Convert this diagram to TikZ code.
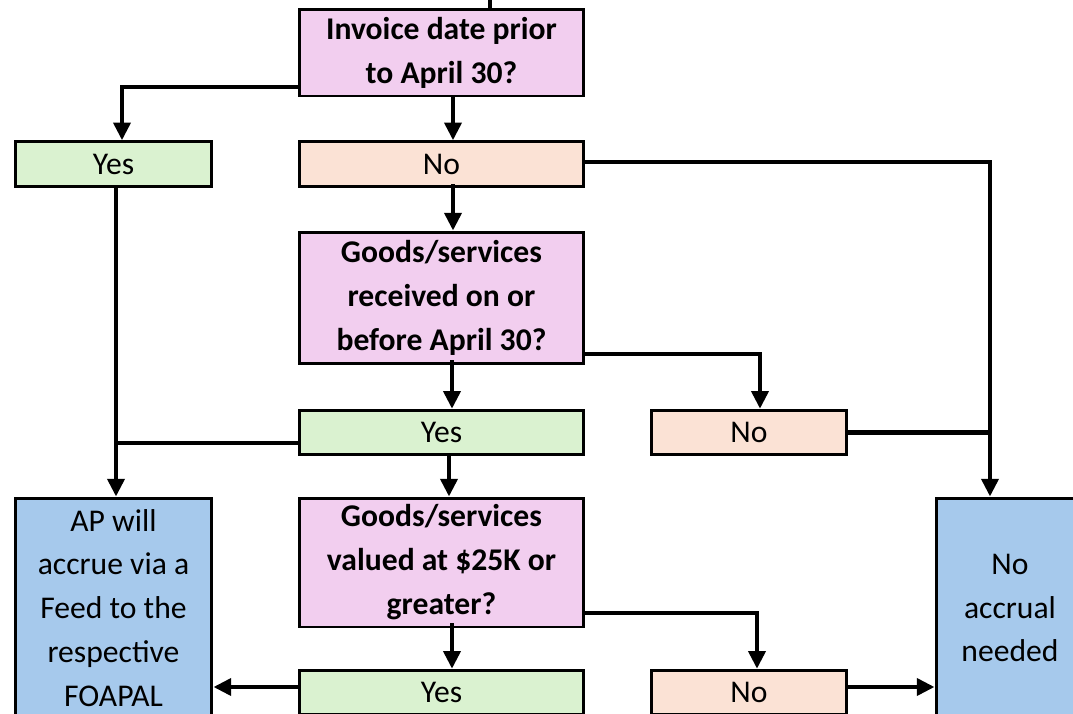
\documentclass[tikz,border=0pt]{standalone}
\usepackage{fontspec}
\setmainfont{Carlito}
\usetikzlibrary{arrows.meta}
\definecolor{qpink}{HTML}{F2CEEF}
\definecolor{ygreen}{HTML}{DAF2D0}
\definecolor{norange}{HTML}{FBE2D5}
\definecolor{endblue}{HTML}{A6C9EC}
\begin{document}
\begin{tikzpicture}[x=0.02cm, y=-0.02cm,
    every node/.style={draw, line width=1.7pt, inner sep=0pt, align=center,
        font=\fontsize{18}{25}\selectfont},
    question/.style={fill=qpink, font=\fontsize{18}{25}\selectfont\bfseries, minimum width=5.7cm},
    yesbox/.style={fill=ygreen, minimum height=0.89cm},
    nobox/.style={fill=norange, minimum height=0.89cm},
    endbox/.style={fill=endblue, minimum height=4.4cm},
    link/.style={line width=2.4pt},
    arr/.style={link, -{Triangle[length=10pt, width=9.5pt]}}]
    \useasboundingbox (0,0) rectangle (1073,714);
    \clip (0,0) rectangle (1073,714);

    \node[question, minimum height=1.74cm] (q1) at (441.5,52.5) {Invoice date prior\\to April 30?};
    \node[yesbox, minimum width=3.94cm] (yes1) at (113.5,164) {Yes};
    \node[nobox, minimum width=5.7cm] (no1) at (441.5,164) {No};
    \node[question, minimum height=2.64cm] (q2) at (441.5,298) {Goods/services\\received on or\\before April 30?};
    \node[yesbox, minimum width=5.7cm] (yes2) at (441.5,432.5) {Yes};
    \node[nobox, minimum width=3.92cm] (no2) at (749,432.5) {No};
    \node[question, minimum height=2.58cm] (q3) at (441.5,562.5) {Goods/services\\valued at \$25K or\\greater?};
    \node[yesbox, minimum width=5.7cm] (yes3) at (441.5,692.5) {Yes};
    \node[nobox, minimum width=3.92cm] (no3) at (749,692.5) {No};
    \node[endbox, minimum width=3.94cm] (ap) at (113.5,608) {AP will\\accrue via a\\Feed to the\\respective\\FOAPAL};
    \node[endbox, minimum width=2.96cm] (none) at (1010,608) {No\\accrual\\needed};

    \coordinate (in) at (490,-10);
    \coordinate (jl) at (116,443);
    \coordinate (jr) at (990,432.5);

    % first question
    \draw[link] (in) -- (in |- q1.north);
    \draw[arr] (q1.west |- 0,87) -| (122,0 |- yes1.north);
    \draw[arr] (453,0 |- q1.south) -- (453,0 |- no1.north);
    \draw[arr] (no1.east |- 0,162) -| (jr |- none.north);
    % second question
    \draw[arr] ([yshift=2pt]no1.south -| 453,0) -- (453,0 |- q2.north);
    \draw[arr] ([yshift=3pt]q2.south -| 452,0) -- (452,0 |- yes2.north);
    \draw[arr] (q2.east |- 0,354) -| (760,0 |- no2.north);
    \draw[arr] (yes1.south -| jl) -- (jl |- ap.north);
    \draw[link] (yes2.west |- jl) -- (jl);
    \draw[link] (no2.east) -- (jr);
    % third question
    \draw[arr] (yes2.south -| 449,0) -- (449,0 |- q3.north);
    \draw[arr] ([yshift=3pt]q3.south -| 452,0) -- (452,0 |- yes3.north);
    \draw[arr] (q3.east |- 0,613) -| (757,0 |- no3.north);
    \draw[arr] (yes3.west |- 0,687) -- (ap.east |- 0,687);
    \draw[arr] (no3.east |- 0,687) -- (none.west |- 0,687);
\end{tikzpicture}
\end{document}
